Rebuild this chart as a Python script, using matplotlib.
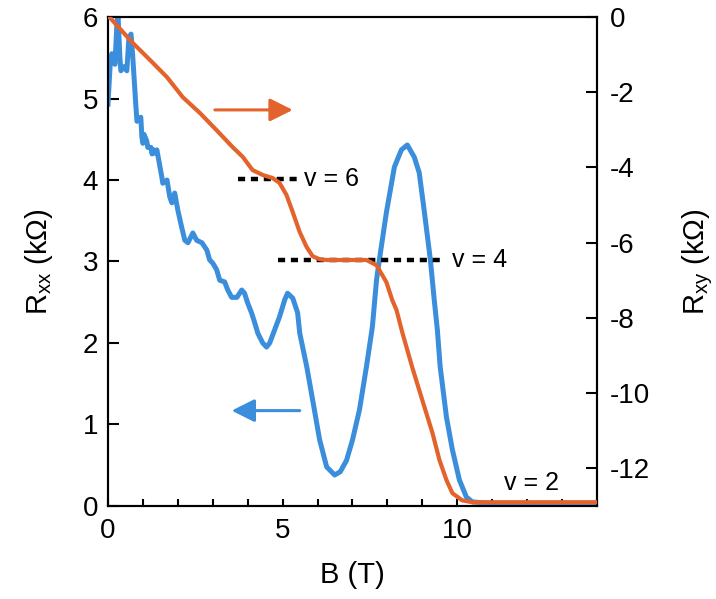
import matplotlib
matplotlib.use("Agg")
import matplotlib.pyplot as plt
from matplotlib.ticker import MultipleLocator

plt.rcParams['font.family'] = ['Liberation Sans', 'DejaVu Sans']

# Longitudinal resistance R_xx (kOhm) vs field B (T)
b_xx = [0.00, 0.06, 0.11, 0.20, 0.26, 0.29, 0.34, 0.37, 0.46, 0.54, 0.60, 0.66,
        0.71, 0.80, 0.83, 0.94, 0.97, 1.00, 1.03, 1.11, 1.14, 1.23, 1.26, 1.31,
        1.34, 1.40, 1.43, 1.54, 1.57, 1.69, 1.77, 1.83, 1.91, 2.00, 2.11, 2.20,
        2.29, 2.43, 2.54, 2.69, 2.83, 2.91, 3.00, 3.11, 3.20, 3.34, 3.43, 3.54,
        3.69, 3.83, 3.91, 4.00, 4.11, 4.20, 4.29, 4.43, 4.54, 4.63, 4.77, 4.91,
        5.06, 5.14, 5.29, 5.43, 5.49, 5.69, 5.86, 6.06, 6.26, 6.49, 6.65, 6.83,
        7.00, 7.20, 7.40, 7.57, 7.69, 7.77, 7.97, 8.20, 8.40, 8.57, 8.77, 8.91,
        9.06, 9.23, 9.34, 9.43, 9.51, 9.69, 9.86, 10.06, 10.26, 10.43, 11.0,
        12.0, 13.0, 14.0]
r_xx = [4.93, 5.39, 5.55, 5.42, 5.95, 6.00, 5.51, 5.34, 5.39, 5.34, 5.75, 5.79,
        5.51, 4.90, 4.72, 4.77, 4.53, 4.45, 4.56, 4.48, 4.40, 4.40, 4.32, 4.37,
        4.33, 4.37, 4.30, 4.04, 3.96, 4.00, 3.79, 3.72, 3.84, 3.63, 3.42, 3.26,
        3.23, 3.35, 3.26, 3.23, 3.14, 3.02, 2.98, 2.90, 2.77, 2.75, 2.65, 2.56,
        2.56, 2.65, 2.61, 2.49, 2.37, 2.25, 2.12, 2.00, 1.95, 2.00, 2.16, 2.32,
        2.53, 2.61, 2.55, 2.37, 2.12, 1.71, 1.30, 0.81, 0.48, 0.38, 0.42, 0.56,
        0.81, 1.18, 1.71, 2.20, 2.78, 3.02, 3.60, 4.16, 4.37, 4.43, 4.28, 4.09,
        3.60, 3.02, 2.53, 2.16, 1.71, 1.09, 0.69, 0.32, 0.11, 0.05, 0.03,
        0.03, 0.03, 0.03]

# Hall resistance R_xy (kOhm) vs field B (T)
b_xy = [0.00, 0.06, 0.71, 1.20, 1.69, 2.14, 2.63, 3.11, 3.57, 3.86, 4.14, 4.43,
        4.71, 4.91, 5.11, 5.29, 5.49, 5.69, 5.86, 6.06, 6.26, 7.40, 7.69, 7.97,
        8.14, 8.26, 8.43, 8.71, 9.00, 9.29, 9.49, 9.69, 9.86, 10.14, 10.43,
        11.0, 12.0, 13.0, 14.0]
r_xy = [0.00, -0.02, -0.69, -1.14, -1.60, -2.13, -2.55, -3.01, -3.46, -3.72,
        -4.07, -4.20, -4.28, -4.41, -4.73, -5.19, -5.72, -6.12, -6.36, -6.44,
        -6.46, -6.46, -6.60, -7.05, -7.53, -7.79, -8.40, -9.31, -10.19, -11.06,
        -11.78, -12.31, -12.66, -12.85, -12.90, -12.90, -12.90, -12.90, -12.90]

# Quantum Hall plateaus: filling factor, R_xy value, B span of guide line
plateau_nu = [6, 4]
plateau_rxy = [-4.30, -6.45]
plateau_b0 = [3.71, 4.86]
plateau_b1 = [5.40, 9.66]

BLUE = '#3a8edb'
ORANGE = '#e3632d'

fig = plt.figure(figsize=(7.16, 5.99), dpi=100)
ax = fig.add_axes([0.1508, 0.1553, 0.6830, 0.8163])
ax2 = ax.twinx()

ax.plot(b_xx, r_xx, color=BLUE, lw=3.6, solid_joinstyle='round', zorder=3)
ax2.plot(b_xy, r_xy, color=ORANGE, lw=3.0, solid_joinstyle='round', zorder=3)

ax.set_xlim(0, 14)
ax.set_ylim(0, 6)
ax2.set_ylim(-13, 0)

# Plateau guide lines and labels
for nu, ry, b0, b1 in zip(plateau_nu, plateau_rxy, plateau_b0, plateau_b1):
    ax2.plot([b0, b1], [ry, ry], color='black', lw=3.2,
             linestyle=(0, (1.6, 1.3)), dash_capstyle='butt', zorder=2)
    ax2.text(b1 + 0.2, ry, f'v = {nu}', fontsize=18, va='center', ha='left')
ax2.text(11.34, -12.39, 'v = 2', fontsize=18, va='center', ha='left')

# Arrows pointing to each curve's axis
ax.annotate('', xy=(5.29, 4.86), xytext=(3.06, 4.86),
            arrowprops=dict(arrowstyle='-|>,head_length=0.7,head_width=0.35',
                            color=ORANGE, lw=2.2, mutation_scale=20,
                            shrinkA=0, shrinkB=0))
ax.annotate('', xy=(3.54, 1.17), xytext=(5.49, 1.17),
            arrowprops=dict(arrowstyle='-|>,head_length=0.7,head_width=0.35',
                            color=BLUE, lw=2.2, mutation_scale=20,
                            shrinkA=0, shrinkB=0))

ax.xaxis.set_major_locator(MultipleLocator(5))
ax.xaxis.set_minor_locator(MultipleLocator(1))
ax.yaxis.set_major_locator(MultipleLocator(1))
ax2.yaxis.set_major_locator(MultipleLocator(2))

for a in (ax, ax2):
    for s in a.spines.values():
        s.set_linewidth(1.5)

ax.tick_params(axis='x', which='both', direction='in', length=5, width=1.5,
               labelsize=20, pad=9, top=False)
ax.tick_params(axis='y', which='both', direction='in', length=8, width=1.5,
               labelsize=20, pad=7, right=False)
ax2.tick_params(axis='y', direction='in', length=8, width=1.5,
                labelsize=20, pad=9)
ax2.set_yticklabels([f'{int(v)}' for v in ax2.get_yticks()])

ax.set_xlabel('B (T)', fontsize=21, labelpad=12)
ax.set_ylabel('R$_\\mathregular{xx}$ (k\u03a9)', fontsize=21, labelpad=20)
ax2.set_ylabel('R$_\\mathregular{xy}$ (k\u03a9)', fontsize=21, labelpad=22)

fig.savefig('out.png', dpi=100)
